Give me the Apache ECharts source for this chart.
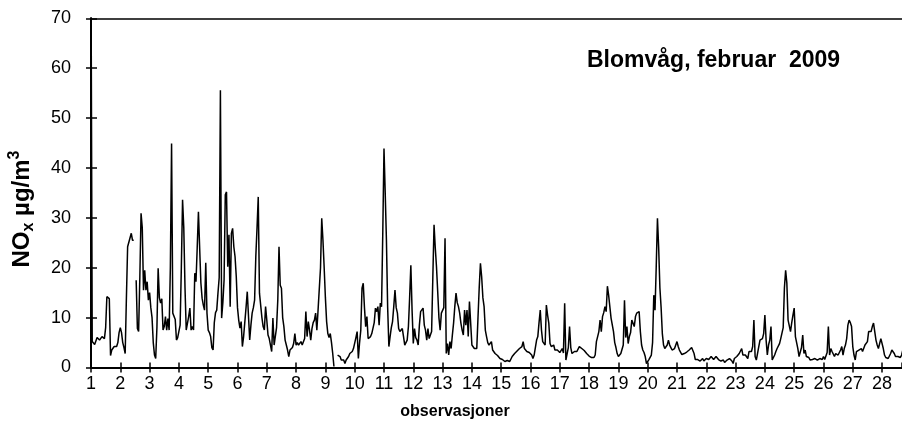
<!DOCTYPE html>
<html>
<head>
<meta charset="utf-8">
<script src="https://cdn.jsdelivr.net/npm/echarts@6/dist/echarts.min.js"></script>
<style>html,body{margin:0;padding:0;background:#fff}#c{width:902px;height:445px}</style>
</head>
<body>
<div id="c"></div>
<script>
// Hourly NOx (µg/m3), Blomvåg, February 2009 — one array per day (24 hourly values, null = missing)
const d01 = [80, 5.2, 5, 4.6, 4.8, 6, 5.8, 5.5, 5.2, 6.2, 6, 5.8, 8, 14.2, 14, 13.8, 2.4, 3.5, 3.8, 4.2, 4.5, 4.2, 5, 7];
const d02 = [8, 7, 5, 4, 2.8, 14, 24.2, 24.5, 26, 26.9, 25.5, 25.5, null, 17.5, 7.8, 7.2, 18, 30.9, 28, 15.5, 19.5, 15.5, 17.2, 13.5];
const d03 = [15, 12, 10, 5, 2.5, 1.8, 8, 19.9, 14, 12.9, 13.8, 7.5, 8.2, 10.2, 7.5, 9.8, 7.5, 20, 44.9, 10.9, 11, 9.6, 5.5, 6];
const d04 = [5.8, 8.5, 20, 33.6, 28, 16, 7.5, 7.2, 10.2, 11.9, 7.5, 8.2, 7.5, 18.9, 17.2, 24, 31.2, 24, 17, 13.9, 12.5, 11.5, 21, 10.9];
const d05 = [7.5, 7, 6.2, 4, 3.5, 9, 11, 11.5, 14.9, 18, 55.6, 9.9, 13, 17.5, 34.6, 35.2, 20.2, 26.6, 12.2, 26.9, 27.9, 24.2, 22.2, 18.2];
const d06 = [12, 9.5, 7.9, 9.2, 4.2, 6.2, 6.5, 12, 15.2, 14.9, 5.5, 8.5, 10.9, 12, 13.5, 22.2, 28, 34.2, 14.9, 14.5, 10, 8.2, 7.5, 12.2];
const d07 = [9.5, 6.5, 5.8, 5.8, 3.2, 9.9, 4.5, 4.5, 8, 13.5, 24.2, 16.5, 15.9, 10, 8.2, 5.5, 4.5, 3.5, 2.2, 3.5, 3.5, 4, 4.8, 6.8];
const d08 = [4.5, 5, 4.5, 4.2, 5.2, 4.5, 4.2, 5.8, 11.2, 6.2, 9.2, 7.5, 5.5, 7.8, 9, 9.5, 10.9, 7.5, 11.5, 11.9, 20, 29.9, 25.5, 20];
const d09 = [14, 9.2, 6.8, 6, 6.8, 5, 2.8, 0.2, null, null, 2.5, 2.3, 2.2, 1.5, 1.8, 1.5, 0.8, 1.5, 1.8, 2.2, 2.8, 2.8, 3.2, 3.8];
const d10 = [4.2, 6, 7.2, 1.8, 5, 7.5, 15.9, 16.9, 12, 8.2, 10.2, 5.8, 6.2, 6.2, 6.8, 7.2, 9, 11.9, 11.2, 12.2, 8.5, 12.9, 12.2, 26.9];
const d11 = [43.9, 35, 25.5, 12, 4.2, 6.2, 8, 9.2, 12.2, 15.5, 12, 10.9, 7.8, 7.2, 7.5, 7.8, 6.2, 4.5, 4.8, 5.5, 8.2, 14, 20.5, 11.5];
const d12 = [4.8, 7.8, 6, 5.5, 4.5, 8.5, 11.2, 11.5, 11.9, 8.5, 7.5, 5.5, 7.8, 5.8, 6.5, 7.2, 18, 28.6, 24, 20.2, 15.2, 10, 7.5, 10.9];
const d13 = [11.2, 12, 25.9, 2.8, 4.8, 2.5, 5.2, 3.8, 6.5, 8.9, 12.2, 14.9, 13, 12.2, 10.9, 8.9, 7.5, 6.5, 11.5, 8.5, 11.5, 6.2, 13.2, 8.9];
const d14 = [4.5, 4.2, 3.8, 4.2, 3.8, 10, 16, 20.9, 18.2, 14, 12.2, 7.5, 6.2, 5, 4.5, 4.8, 5.2, 3.5, 3.2, 2.8, 2.5, 2.4, 2.2, 1.8];
const d15 = [1.5, 1.6, 1.8, 1.2, 1.5, 1.4, 1.2, 1.2, 1.6, 2.2, 2.5, 2.8, 3.2, 3.3, 3.5, 3.8, 3.6, 4.2, 5.2, 3.8, 3.5, 3.2, 2.8, 3];
const d16 = [2.8, 2.5, 1.8, 2.5, 2.8, 5.5, 6.2, 9, 11.5, 7.5, 5.2, 4.8, 4.5, 12.5, 10.5, 8.9, 4.8, 4.2, 3.8, 4.5, 3.5, 3.2, 3.5, 3.2];
const d17 = [3, 2.8, 3.8, 2.9, 12.9, 1.5, 1.8, 4, 8.2, 4, 2.8, 2.6, 3.2, 2.8, 3.2, 3.5, 4.2, 4.2, 3.8, 3.6, 3.4, 3.2, 2.8, 2.5];
const d18 = [2.3, 2.2, 2, 1.8, 2, 2.5, 5.2, 6.2, 7.2, 9.5, 7.2, 10.2, 11, 12.2, 11.2, 16.3, 14.5, 14.2, 9.9, 10.2, 7.2, 5, 4, 2.8];
const d19 = [2.2, 2.3, 2.8, 3.2, 4.5, 13.5, 6, 8.2, 4.8, 6.2, 7, 9.5, 9.9, 8.2, 10.2, 10.9, 11, 11.2, 7.2, 4.5, 3.5, 3, 2.2, 0.8];
const d20 = [1.2, 1.6, 2, 2.5, 5, 14.5, 11.5, 20.2, 29.9, 24, 16, 12, 6.8, 4.5, 3.8, 4.2, 4.5, 5.5, 4.5, 4, 3.5, 3.8, 3.8, 3.8];
const d21 = [5.2, 4.2, 3.5, 3.2, 2.6, 2.8, 2.8, 2.8, 3.1, 3.4, 3.5, 3.8, 4, 4, 2.8, 1.6, 1.5, 1.6, 1.8, 1.3, 1.6, 1.8, 1.3, 1.6];
const d22 = [1.8, 2.2, 1.6, 1.8, 2.2, 1.8, 1.6, 1.8, 2.2, 1.8, 1.6, 1.8, 1.3, 1.2, 1.5, 1, 1.3, 1.5, 1.2, 1.8, 1.5, 1.3, 0.8, 1.8];
const d23 = [2, 2.2, 2, 2.8, 3.2, 3.8, 2.5, 2.2, 2.5, 2.8, 1.8, 3.2, 3.5, 3.2, 4.2, 9.5, 2.2, 1.5, 1.2, 4.2, 5.5, 5.6, 5.8, 6.8];
const d24 = [10.5, 5.5, 2.5, 4.5, 5.5, 8.2, 1.5, 2, 2.5, 3.2, 3.8, 4.2, 4.8, 5.8, 5.5, 8, 16, 19.5, 16.9, 9.5, 9.2, 7.2, 9, 10.5];
const d25 = [11.9, 6.2, 5, 3.8, 2.2, 2.2, 4, 6.5, 2.8, 3.5, 2.2, 2.2, 2, 1.5, 1.8, 1.6, 1.5, 1.8, 1.6, 1.5, 1.2, 1.8, 1.5, 1.6];
const d26 = [2.2, 1.6, 1.5, 3, 8.2, 2.5, 3.8, 3.2, 2.8, 2.2, 2.8, 2.8, 2.5, 2.8, 3.5, 4.2, 2.5, 3.8, 4.5, 5.8, 8.5, 9.5, 9, 8.2];
const d27 = [4.2, 2.5, 1.5, 3.2, 3.5, 3.5, 3.5, 3.8, 3.2, 3.5, 4.5, 4.8, 5.2, 7.2, 7.5, 7.2, 8.2, 8.9, 7.2, 5.5, 4.5, 3.8, 3.5, 5.8];
const d28 = [5.5, 3.8, 2.5, 2, 1.8, 1.8, 2.2, 2.8, 3.5, 3.8, 2.8, 2.2, 1.8, 2.2, 2.2, 2, 2.5, 3.5, 3.2, 2.8, 2.5, 2.6, 3, 3.2];

const dayLabels = ['1','2','3','4','5','6','7','8','9','10','11','12','13','14','15','16','17','18','19','20','21','22','23','24','25','26','27','28'];
const yTicks = [0, 10, 20, 30, 40, 50, 60, 70];
const titleText = 'Blomvåg, februar  2009';
const xTitle = 'observasjoner';
// visible part of the day axis (the picture is cut at the right edge, partway into day 28)
const xMin = 1;
const xMax = 28.68;

const days = [d01,d02,d03,d04,d05,d06,d07,d08,d09,d10,d11,d12,d13,d14,d15,d16,d17,d18,d19,d20,d21,d22,d23,d24,d25,d26,d27,d28];
const HOURS = 24;
const seriesData = [];
days.forEach(function (arr, d) {
  arr.forEach(function (v, h) {
    seriesData.push([1 + d + h / HOURS, v === null ? '-' : v]);
  });
});

const F = '"Liberation Sans", Arial, Helvetica, sans-serif';
const chart = echarts.init(document.getElementById('c'), null, {renderer: 'canvas'});
const option = {
  animation: false,
  backgroundColor: '#ffffff',
  title: {
    text: titleText, left: 587, top: 49, padding: 0,
    textStyle: {fontFamily: F, fontSize: 23, fontWeight: 'bold', color: '#000'}
  },
  grid: {left: 91, top: 18.3, right: 0, height: 349.2, containLabel: false},
  xAxis: [
    {
      type: 'value', min: xMin, max: xMax, interval: 1, position: 'bottom',
      axisLine: {show: true, onZero: false, lineStyle: {color: '#000', width: 2}},
      axisTick: {show: true, length: 5, lineStyle: {color: '#000', width: 1.5}},
      axisLabel: {
        margin: 8, fontSize: 18, color: '#000', fontFamily: F, showMaxLabel: false,
        formatter: function (v) { return Number.isInteger(v) ? (dayLabels[v - 1] || '') : ''; }
      },
      splitLine: {show: false}
    },
    {
      type: 'value', min: xMin, max: xMax, interval: 1, position: 'bottom',
      axisLine: {show: false},
      axisTick: {show: true, inside: true, length: 5, lineStyle: {color: '#000', width: 1.5}},
      axisLabel: {show: false}, splitLine: {show: false}
    },
    {
      type: 'value', min: xMin, max: xMax, position: 'top',
      axisLine: {show: true, onZero: false, lineStyle: {color: '#000', width: 1.5}},
      axisTick: {show: false}, axisLabel: {show: false}, splitLine: {show: false}
    }
  ],
  yAxis: [
    {
      type: 'value', min: yTicks[0], max: yTicks[yTicks.length - 1], interval: yTicks[1] - yTicks[0], position: 'left',
      axisLine: {show: true, onZero: false, lineStyle: {color: '#000', width: 2}},
      axisTick: {show: true, length: 5, lineStyle: {color: '#000', width: 1.5}},
      axisLabel: {margin: 20, fontSize: 18, color: '#000', fontFamily: F},
      splitLine: {show: false}
    },
    {
      type: 'value', min: yTicks[0], max: yTicks[yTicks.length - 1], interval: yTicks[1] - yTicks[0], position: 'left',
      axisLine: {show: false},
      axisTick: {show: true, inside: true, length: 6, lineStyle: {color: '#000', width: 1.5}},
      axisLabel: {show: false}, splitLine: {show: false}
    }
  ],
  series: [{
    type: 'line', xAxisIndex: 0, yAxisIndex: 0, data: seriesData,
    showSymbol: false, symbol: 'none', connectNulls: false, clip: true, silent: true,
    lineStyle: {color: '#000', width: 1.5}
  }],
  graphic: [
    {
      type: 'text', x: 455, y: 412, silent: true,
      style: {text: xTitle, fontFamily: F, fontSize: 16, fontWeight: 'bold', fill: '#000', align: 'center', verticalAlign: 'middle'}
    },
    {
      type: 'text', x: 22, y: 209, rotation: Math.PI / 2, silent: true,
      style: {
        text: '{a|NO}{s|x}{a| µg/m}{p|3}', align: 'center', verticalAlign: 'middle', fill: '#000',
        rich: {
          a: {fontFamily: F, fontSize: 24, fontWeight: 'bold', lineHeight: 30, verticalAlign: 'middle', fill: '#000'},
          s: {fontFamily: F, fontSize: 16, fontWeight: 'bold', lineHeight: 16, verticalAlign: 'bottom', fill: '#000'},
          p: {fontFamily: F, fontSize: 16, fontWeight: 'bold', lineHeight: 16, verticalAlign: 'top', fill: '#000'}
        }
      }
    }
  ]
};
chart.setOption(option);
</script>
</body>
</html>
